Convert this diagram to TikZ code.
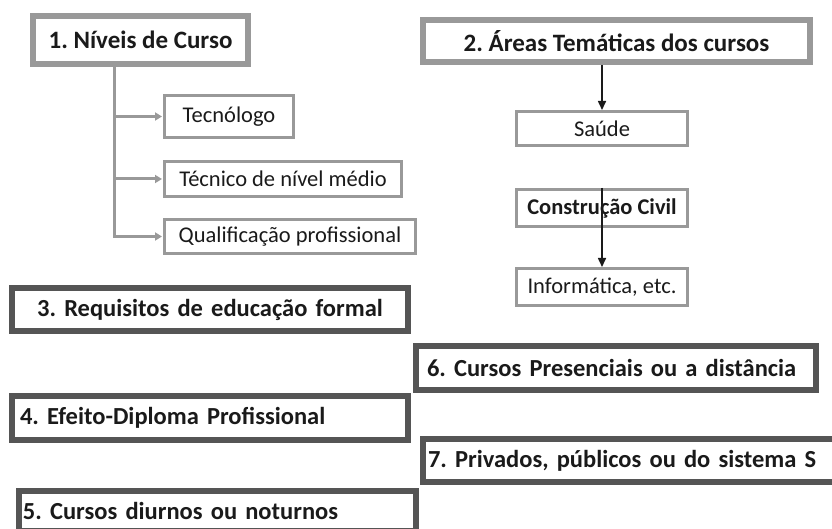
\documentclass[tikz,border=0pt]{standalone}
\usepackage{fontspec}
\setmainfont{Carlito}
\usetikzlibrary{arrows.meta,positioning}
\definecolor{boxgray}{RGB}{153,153,153}
\definecolor{boxdark}{RGB}{85,85,85}
\definecolor{txtblack}{RGB}{26,26,26}
\frenchspacing

\begin{document}
\begin{tikzpicture}[x=1pt, y=-1pt,
    head/.style={rectangle, draw=boxgray, line width=6pt, fill=white, align=center,
      inner sep=0pt, text=txtblack, font=\fontsize{25}{29}\selectfont\bfseries},
    item/.style={rectangle, draw=boxgray, line width=3pt, fill=white, align=center,
      inner sep=0pt, text=txtblack, font=\fontsize{22.5}{26}\selectfont},
    topic/.style={rectangle, draw=boxdark, line width=6pt, fill=white, align=left,
      inner ysep=0pt, text=txtblack, font=\fontsize{24.5}{28}\selectfont\bfseries},
    garr/.style={-{Triangle[length=7pt, width=8pt]}, boxgray, line width=3pt},
    barr/.style={-{Triangle[length=9pt, width=8pt]}, txtblack, line width=1.6pt}
  ]
    \clip (0,0) rectangle (832,529);

    % course levels
    \node[head, minimum width=215pt, minimum height=48pt] (niv) at (140.5,40) {1. Níveis de Curso};
    \node[item, minimum width=129pt, minimum height=42pt] (tec) at (229,116.5) {Tecnólogo};
    \node[item, minimum width=237pt, minimum height=35pt] (tnm) at (283,179) {Técnico de nível médio};
    \node[item, minimum width=251pt, minimum height=34pt] (qua) at (290,236.5) {Qualificação profissional};

    \draw[garr, shorten >=1pt] ([xshift=-26.5pt]niv.south) |- (tec.west);
    \draw[garr, shorten >=1pt] ([xshift=-26.5pt]niv.south) |- (tnm.west);
    \draw[garr, shorten >=1pt] ([xshift=-26.5pt]niv.south) |- (qua.west);

    % thematic areas
    \node[head, minimum width=387pt, minimum height=42pt] (are) at (616.5,41) {2. Áreas Temáticas dos cursos};
    \node[item, minimum width=171pt, minimum height=34pt] (sau) at (602,128.5) {Saúde};
    \node[item, minimum width=171pt, minimum height=37pt, font=\fontsize{22.5}{26}\selectfont\bfseries]
      (civ) at (602,208) {Construção Civil};
    \node[item, minimum width=171pt, minimum height=37pt] (inf) at (602,287) {Informática, etc.};

    \draw[barr] (are.south -| sau.north) -- (sau.north);
    \draw[barr] (civ.north) -- (inf.north);

    % other criteria
    \node[topic, align=center, text width=376pt, inner xsep=10pt, minimum height=43pt]
      (req) at (210,309.5) {3. Requisitos de educação formal};
    \node[topic, text width=378pt, inner xsep=11pt, minimum height=44pt]
      (pre) at (616,368) {6. Cursos Presenciais ou a distância};
    \node[topic, text width=380pt, inner xsep=8pt, minimum height=44pt]
      (efe) at (210,418) {4. Efeito-Diploma Profissional};
    \node[topic, text width=404pt, inner xsep=5pt, minimum height=43pt]
      (pri) at (630,460.5) {7. Privados, públicos ou do sistema S};
    \node[topic, text width=389pt, inner xsep=4pt, minimum height=40pt]
      (diu) at (217.5,511) {5. Cursos diurnos ou noturnos};
\end{tikzpicture}
\end{document}
